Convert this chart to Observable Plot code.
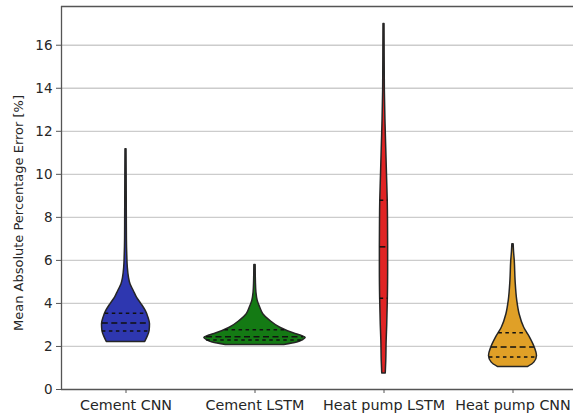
<!DOCTYPE html>
<html>
<head>
<meta charset="utf-8">
<script src="https://cdn.jsdelivr.net/npm/d3@7"></script>
<script src="https://cdn.jsdelivr.net/npm/@observablehq/plot@0.6"></script>
<style>
  html, body { margin: 0; padding: 0; background: #fff; overflow: hidden; }
  #chart svg { display: block; overflow: hidden; }
</style>
</head>
<body>
<div id="chart"></div>
<script>
// ---- data ----
const categories = ["Cement CNN", "Cement LSTM", "Heat pump LSTM", "Heat pump CNN"];
const fillColors = ["#2e37b0", "#147a14", "#e02424", "#e0a027"];

// violin profiles: MAPE value and half-width of the density (in category units)
const cementCnnY = [2.21, 2.41, 2.72, 3.03, 3.34, 3.65, 3.96, 4.27, 4.58, 4.89, 5.2, 5.67, 6.2, 7.0, 8.5, 10.0, 11.16];
const cementCnnW = [0.149, 0.165, 0.183, 0.186, 0.174, 0.153, 0.121, 0.085, 0.060, 0.035, 0.023, 0.014, 0.010, 0.007, 0.006, 0.005, 0.004];

const cementLstmY = [2.07, 2.18, 2.3, 2.4, 2.5, 2.6, 2.87, 3.19, 3.5, 3.8, 4.12, 4.5, 5.0, 5.79];
const cementLstmW = [0.227, 0.328, 0.374, 0.393, 0.359, 0.304, 0.196, 0.118, 0.064, 0.041, 0.021, 0.011, 0.007, 0.005];

const heatLstmY = [0.74, 1.3, 2.26, 3.0, 4.27, 5.5, 6.6, 7.8, 8.77, 10.0, 11.2, 12.33, 13.9, 15.5, 16.99];
const heatLstmW = [0.0136, 0.0174, 0.0205, 0.025, 0.030, 0.032, 0.032, 0.031, 0.029, 0.023, 0.0174, 0.012, 0.0066, 0.005, 0.004];

const heatCnnY = [1.05, 1.25, 1.56, 1.94, 2.41, 2.87, 3.5, 4.12, 5.05, 5.98, 6.4, 6.75];
const heatCnnW = [0.118, 0.165, 0.186, 0.169, 0.132, 0.087, 0.051, 0.033, 0.020, 0.0136, 0.008, 0.005];

// quartiles [Q1, median, Q3]
const quartiles = [
  [2.72, 3.09, 3.54],
  [2.30, 2.45, 2.78],
  [4.24, 6.63, 8.80],
  [1.51, 1.98, 2.64]
];

const yTicks = [0, 2, 4, 6, 8, 10, 12, 14, 16];
const yLabel = "Mean Absolute Percentage Error [%]";

// ---- build tables ----
const profilesY = [cementCnnY, cementLstmY, heatLstmY, heatCnnY];
const profilesW = [cementCnnW, cementLstmW, heatLstmW, heatCnnW];

const violinRows = [];
profilesY.forEach((ys, i) => {
  ys.forEach((y, j) => violinRows.push({cat: categories[i], pos: i + 1, y, w: profilesW[i][j]}));
});

function widthAt(i, v) {
  const ys = profilesY[i], ws = profilesW[i];
  for (let j = 0; j < ys.length - 1; j++) {
    if (v >= ys[j] && v <= ys[j + 1]) {
      const t = (v - ys[j]) / (ys[j + 1] - ys[j]);
      return ws[j] + t * (ws[j + 1] - ws[j]);
    }
  }
  return 0;
}

const quartRows = [];
quartiles.forEach((qs, i) => {
  qs.forEach((v, k) => quartRows.push({pos: i + 1, v, w: widthAt(i, v), kind: k === 1 ? "median" : "quartile"}));
});

const yMax = 17.8;

const chart = Plot.plot({
  width: 573,
  height: 417,
  marginLeft: 61,
  marginRight: 0,
  marginTop: 6,
  marginBottom: 28,
  style: {fontFamily: "DejaVu Sans", color: "#262626", background: "#fff"},
  x: {type: "linear", domain: [0.5, 4.5], range: [61, 577]},
  y: {domain: [0, yMax]},
  color: {type: "ordinal", domain: categories, range: fillColors},
  marks: [
    Plot.ruleY(yTicks.slice(1), {stroke: "#cccccc", strokeWidth: 1.3}),
    Plot.areaX(violinRows, {
      y: "y",
      x1: d => d.pos - d.w,
      x2: d => d.pos + d.w,
      z: "cat",
      fill: "cat",
      stroke: "#262626",
      strokeWidth: 1.5,
      curve: "monotone-y"
    }),
    Plot.ruleY(quartRows.filter(d => d.kind === "quartile"), {
      y: "v", x1: d => d.pos - d.w, x2: d => d.pos + d.w,
      stroke: "#111", strokeWidth: 1.5, strokeDasharray: "3.5,3.5"
    }),
    Plot.ruleY(quartRows.filter(d => d.kind === "median"), {
      y: "v", x1: d => d.pos - d.w, x2: d => d.pos + d.w,
      stroke: "#111", strokeWidth: 1.5, strokeDasharray: "6,3.5"
    }),
    Plot.ruleX([0.5], {stroke: "#555", strokeWidth: 1.3}),
    Plot.ruleY([0, yMax], {stroke: "#555", strokeWidth: 1.3}),
    Plot.axisY({
      ticks: yTicks, tickSize: 5, tickPadding: 4, fontSize: 13.5,
      stroke: "#555", label: null
    }),
    Plot.axisX({
      ticks: [1, 2, 3, 4], tickFormat: d => categories[d - 1],
      tickSize: 4, tickPadding: 6, fontSize: 14.3, stroke: "#555", label: null
    }),
    Plot.text([yLabel], {
      text: d => d, frameAnchor: "left", textAnchor: "middle", rotate: -90, dx: -43, dy: 15,
      fontSize: 13, fill: "#262626"
    })
  ]
});

document.getElementById("chart").appendChild(chart);
</script>
</body>
</html>
